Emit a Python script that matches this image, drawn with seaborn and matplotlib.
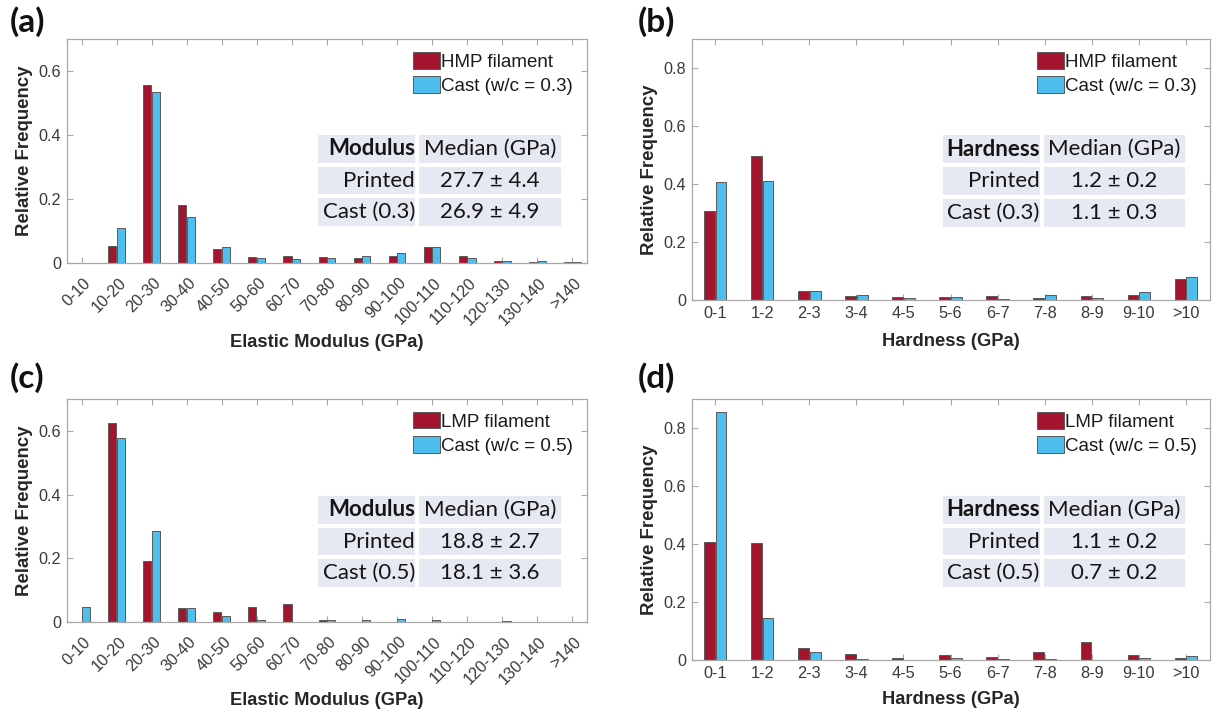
import matplotlib
matplotlib.use("Agg")
import matplotlib.pyplot as plt
import matplotlib.transforms as mtransforms
import numpy as np
import pandas as pd
import seaborn as sns

# ---- bin labels -------------------------------------------------------------
modulus_bins = ["0-10", "10-20", "20-30", "30-40", "40-50", "50-60", "60-70",
                "70-80", "80-90", "90-100", "100-110", "110-120", "120-130",
                "130-140", ">140"]
hardness_bins = ["0-1", "1-2", "2-3", "3-4", "4-5", "5-6", "6-7", "7-8",
                 "8-9", "9-10", ">10"]

# ---- relative frequencies ---------------------------------------------------
hmp_modulus = [0.0, 0.054, 0.557, 0.180, 0.044, 0.018, 0.022, 0.018, 0.016,
               0.023, 0.049, 0.021, 0.006, 0.004, 0.003]
cast03_modulus = [0.0, 0.109, 0.533, 0.143, 0.050, 0.015, 0.014, 0.015, 0.023,
                  0.032, 0.050, 0.017, 0.006, 0.005, 0.002]

hmp_hardness = [0.306, 0.496, 0.032, 0.015, 0.010, 0.010, 0.013, 0.006,
                0.013, 0.016, 0.071]
cast03_hardness = [0.407, 0.411, 0.032, 0.018, 0.006, 0.009, 0.005, 0.016,
                   0.007, 0.026, 0.081]

lmp_modulus = [0.001, 0.625, 0.192, 0.044, 0.030, 0.046, 0.058, 0.007, 0.0,
               0.0, 0.0, 0.0, 0.0, 0.0, 0.0]
cast05_modulus = [0.048, 0.579, 0.286, 0.044, 0.018, 0.006, 0.001, 0.005,
                  0.005, 0.008, 0.005, 0.001, 0.004, 0.0, 0.0]

lmp_hardness = [0.408, 0.403, 0.040, 0.021, 0.008, 0.016, 0.012, 0.026,
                0.062, 0.016, 0.008]
cast05_hardness = [0.854, 0.146, 0.028, 0.002, 0.001, 0.007, 0.002, 0.002,
                   0.0, 0.008, 0.014]

# ---- series names -----------------------------------------------------------
series_a = ["HMP filament", "Cast (w/c = 0.3)"]
series_c = ["LMP filament", "Cast (w/c = 0.5)"]

# ---- median tables ----------------------------------------------------------
table_a = [["Modulus", "Median (GPa)"], ["Printed", "27.7 ± 4.4"],
           ["Cast (0.3)", "26.9 ± 4.9"]]
table_b = [["Hardness", "Median (GPa)"], ["Printed", "1.2 ± 0.2"],
           ["Cast (0.3)", "1.1 ± 0.3"]]
table_c = [["Modulus", "Median (GPa)"], ["Printed", "18.8 ± 2.7"],
           ["Cast (0.5)", "18.1 ± 3.6"]]
table_d = [["Hardness", "Median (GPa)"], ["Printed", "1.1 ± 0.2"],
           ["Cast (0.5)", "0.7 ± 0.2"]]

# ---- styling ----------------------------------------------------------------
RED = "#A3142F"
BLUE = "#4DBEEE"
EDGE = "#5a5a5a"
FRAME = "#a8a8a8"
TICK_TXT = "#3a3a3a"
LABEL_TXT = "#262626"
CELL = "#E7E9F2"
SANS = "Liberation Sans"
TABLE_FONT = "Lato"

sns.set_theme(style="white")
plt.rcParams["font.family"] = [SANS, "DejaVu Sans"]

fig = plt.figure(figsize=(12.16, 7.13), dpi=100)
fig.patch.set_facecolor("white")


def draw_panel(rect, bins, printed, cast, names, ylim, yticks, xlabel,
               rotate, rows, table_box, legend_xy, xlabel_y):
    ax = fig.add_axes(rect)
    df = pd.DataFrame({
        "bin": list(bins) * 2,
        "freq": list(printed) + list(cast),
        "sample": [names[0]] * len(bins) + [names[1]] * len(bins),
    })
    sns.barplot(data=df, x="bin", y="freq", hue="sample", order=bins,
                hue_order=names, palette=[RED, BLUE], width=0.5, gap=0.08,
                saturation=1, errorbar=None, edgecolor=EDGE, linewidth=0.7,
                legend=False, ax=ax)

    n = len(bins)
    if rotate:
        ax.set_xlim(-0.43, n - 0.58)
    else:
        ax.set_xlim(-0.5, n - 0.5)
    ax.set_ylim(*ylim)
    ax.set_yticks(yticks)
    ax.set_yticklabels(["0" if v == 0 else f"{v:.1f}" for v in yticks])
    ax.set_xticks(range(n))

    for s in ax.spines.values():
        s.set_visible(True)
        s.set_color(FRAME)
        s.set_linewidth(0.9)
    ax.tick_params(axis="both", which="major", direction="in", length=4,
                   width=0.8, color=FRAME, labelcolor=TICK_TXT,
                   labelsize=11.7, top=True, right=True, bottom=True,
                   left=True, pad=4)

    if rotate:
        ax.set_xticklabels(bins, rotation=45, ha="right", va="center",
                           rotation_mode="anchor")
        shift = mtransforms.ScaledTranslation(7 / 100, -12 / 100,
                                              fig.dpi_scale_trans)
        for lab in ax.get_xticklabels():
            lab.set_transform(lab.get_transform() + shift)
    else:
        ax.set_xticklabels(bins)

    ax.set_xlabel(xlabel, fontsize=13.2, fontweight="bold", color=LABEL_TXT)
    ax.set_ylabel("Relative Frequency", fontsize=13.4, fontweight="bold",
                  color=LABEL_TXT)
    ax.xaxis.set_label_coords(0.5, xlabel_y)
    ax.xaxis.label.set_va("center")
    ax.yaxis.set_label_coords(-0.081, 0.5)
    ax.yaxis.label.set_va("center")

    leg = ax.legend(ax.containers[:2], names, loc="upper left",
                    bbox_to_anchor=legend_xy, frameon=False, fontsize=13.5,
                    handlelength=1.44, handleheight=0.98, handletextpad=0.05,
                    labelspacing=0.3, borderpad=0, borderaxespad=0)
    for txt in leg.get_texts():
        txt.set_color("#1a1a1a")

    tab = ax.table(cellText=rows, bbox=table_box, colWidths=[0.41, 0.59],
                   cellLoc="center")
    tab.auto_set_font_size(False)
    for (r, c), cell in tab.get_celld().items():
        cell.set_facecolor(CELL)
        cell.set_edgecolor("white")
        cell.set_linewidth(2.8)
        cell.PAD = 0.02
        t = cell.get_text()
        t.set_fontsize(16)
        t.set_fontfamily(TABLE_FONT)
        t.set_color("#151515")
        if c == 0:
            cell._loc = "right"
            t.set_ha("right")
        if r == 0 and c == 0:
            t.set_fontweight("bold")
    return ax


# (a) elastic modulus, HMP filament vs cast w/c 0.3
draw_panel([0.0547, 0.6311, 0.428, 0.3142], modulus_bins, hmp_modulus,
           cast03_modulus, series_a, (0, 0.7), [0, 0.2, 0.4, 0.6],
           "Elastic Modulus (GPa)", True, table_a,
           [0.479, 0.156, 0.475, 0.424], (0.666, 0.942), -0.353)

# (b) hardness, HMP filament vs cast w/c 0.3
draw_panel([0.5687, 0.5792, 0.426, 0.366], hardness_bins, hmp_hardness,
           cast03_hardness, series_a, (0, 0.9), [0, 0.2, 0.4, 0.6, 0.8],
           "Hardness (GPa)", False, table_b,
           [0.481, 0.272, 0.476, 0.368], (0.667, 0.950), -0.157)

# (c) elastic modulus, LMP filament vs cast w/c 0.5
draw_panel([0.0547, 0.1276, 0.428, 0.3128], modulus_bins, lmp_modulus,
           cast05_modulus, series_c, (0, 0.7), [0, 0.2, 0.4, 0.6],
           "Elastic Modulus (GPa)", True, table_c,
           [0.479, 0.148, 0.475, 0.426], (0.666, 0.942), -0.35)

# (d) hardness, LMP filament vs cast w/c 0.5
draw_panel([0.5687, 0.0743, 0.426, 0.366], hardness_bins, lmp_hardness,
           cast05_hardness, series_c, (0, 0.9), [0, 0.2, 0.4, 0.6, 0.8],
           "Hardness (GPa)", False, table_d,
           [0.481, 0.272, 0.476, 0.364], (0.667, 0.950), -0.153)

# panel letters
for letter, x, y in [("(a)", 10, 22), ("(b)", 638, 22), ("(c)", 10, 378),
                     ("(d)", 638, 378)]:
    fig.text(x / 1216, 1 - y / 713, letter, fontsize=24, fontweight="bold",
             family=TABLE_FONT, color="#111111", ha="left", va="center")

fig.savefig("out.png", dpi=100, facecolor="white")
